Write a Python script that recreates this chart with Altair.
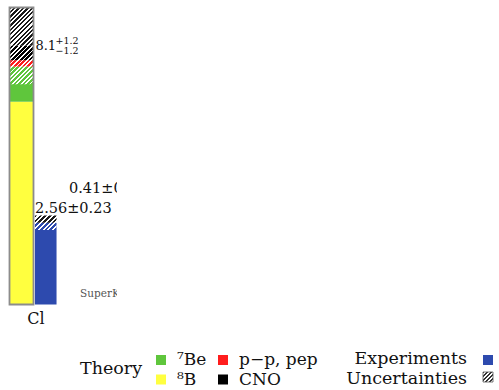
import altair as alt
import numpy as np
import pandas as pd

# Chlorine detector: standard solar model prediction split by neutrino source (SNU)
category = "Cl"
sources = ["⁸B", "⁷Be", "p−p, pep", "CNO"]
theory_snu = [6.35, 1.10, 0.20, 0.45]
source_colors = ["#ffff3f", "#5fc63c", "#ff1d1d", "#000000"]
theory_total = 8.1
theory_err = 1.2

# Measured rate
experiment_snu = 2.56
experiment_err = 0.23
experiment_color = "#2d4aae"

# Neighbouring (water Cherenkov) column, only its labels reach into view
neighbour_value = "0.41±0.01"
neighbour_name = "SuperK"

# Legend entries in column-major order
legend_labels = ["⁷Be", "⁸B", "p−p, pep", "CNO"]
legend_colors = ["#5fc63c", "#ffff3f", "#ff1d1d", "#000000"]

FONT = "DejaVu Serif"

# ---- geometry -------------------------------------------------------------
W, H = 117, 390            # visible plot strip
PAD_RIGHT = 499 - W        # legend lives in the right padding
PX_PER_SNU = 31.935
BASE_Y = 304.5
PX_PER_X = 24.0
X0 = 9.5

xs = alt.Scale(domain=[-X0 / PX_PER_X, (W - X0) / PX_PER_X], nice=False, zero=False)
ys = alt.Scale(domain=[-(H - BASE_Y) / PX_PER_SNU, BASE_Y / PX_PER_SNU], nice=False, zero=False)

THEORY_SLOT = (0.0, 1.0)
EXP_SLOT = (1.06, 1.96)


def hatch(c_on, c_off, w_px, h_px, period=4.5, duty=0.5):
    """Diagonal '/' stripes as a sharp-stop linear gradient in bbox units."""
    n = max(1, int(round((w_px + h_px) / period)))
    stops = []
    for i in range(n):
        a, b, c = i / n, (i + duty) / n, (i + 1) / n
        stops += [
            {"offset": a, "color": c_on},
            {"offset": b, "color": c_on},
            {"offset": b, "color": c_off},
            {"offset": c, "color": c_off},
        ]
    k = (w_px + h_px) / (w_px ** 2 + h_px ** 2)
    return {"gradient": "linear", "x1": 0, "y1": 0,
            "x2": k * w_px, "y2": k * h_px, "stops": stops}


def box(slot, lo, hi):
    return pd.DataFrame({"x0": [slot[0]], "x1": [slot[1]], "lo": [lo], "hi": [hi]})


def rect_enc(ch):
    return ch.encode(
        x=alt.X("x0:Q", scale=xs, axis=None), x2="x1:Q",
        y=alt.Y("lo:Q", scale=ys, axis=None), y2="hi:Q",
    )


# ---- theory stack ---------------------------------------------------------
lo = np.concatenate([[0.0], np.cumsum(theory_snu)[:-1]])
theory_df = pd.DataFrame({
    "source": sources, "lo": lo, "hi": lo + np.array(theory_snu),
    "color": source_colors, "x0": THEORY_SLOT[0], "x1": THEORY_SLOT[1],
})
theory_bars = alt.Chart(theory_df).mark_rect().encode(
    x=alt.X("x0:Q", scale=xs, axis=None), x2="x1:Q",
    y=alt.Y("lo:Q", scale=ys, axis=None), y2="hi:Q",
    color=alt.Color("color:N", scale=None),
)

tw = (THEORY_SLOT[1] - THEORY_SLOT[0]) * PX_PER_X
th = theory_err * PX_PER_SNU
theory_hatch_in = rect_enc(alt.Chart(box(THEORY_SLOT, theory_total - theory_err, theory_total)).mark_rect(
    fill=hatch("#ffffff", "rgba(255,255,255,0)", tw, th, duty=0.4)))
theory_hatch_out = rect_enc(alt.Chart(box(THEORY_SLOT, theory_total, theory_total + theory_err)).mark_rect(
    fill=hatch("#1a1a1a", "#ffffff", tw, th, duty=0.5)))
theory_outline = rect_enc(alt.Chart(box(THEORY_SLOT, 0, theory_total + theory_err)).mark_rect(
    filled=False, stroke="#8c8c8c", strokeWidth=1.8))

# ---- experiment -----------------------------------------------------------
exp_bar = rect_enc(alt.Chart(box(EXP_SLOT, 0, experiment_snu)).mark_rect(color=experiment_color))
ew = (EXP_SLOT[1] - EXP_SLOT[0]) * PX_PER_X
eh = experiment_err * PX_PER_SNU
exp_hatch_in = rect_enc(alt.Chart(box(EXP_SLOT, experiment_snu - experiment_err, experiment_snu)).mark_rect(
    fill=hatch("#ffffff", "rgba(255,255,255,0)", ew, eh, duty=0.4)))
exp_hatch_out = rect_enc(alt.Chart(box(EXP_SLOT, experiment_snu, experiment_snu + experiment_err)).mark_rect(
    fill=hatch("#1a1a1a", "#ffffff", ew, eh, duty=0.5)))

# ---- value labels ---------------------------------------------------------
lab = pd.DataFrame({
    "x": [EXP_SLOT[0] + 0.02], "ytot": [theory_total],
    "yexp": [experiment_snu + experiment_err],
    "xc": [(THEORY_SLOT[0] + EXP_SLOT[1]) / 2],
    "main": [f"{theory_total:.1f}"],
    "sup": [f"+{theory_err:.1f}"], "sub": [f"−{theory_err:.1f}"],
    "exp": [f"{experiment_snu:.2f}±{experiment_err:.2f}"],
    "cat": [category], "zero": [0.0],
})
lbase = alt.Chart(lab)
txt = dict(font=FONT, color="#111111")
tot_main = lbase.mark_text(align="left", baseline="middle", fontSize=13, **txt).encode(
    x=alt.X("x:Q", scale=xs), y=alt.Y("ytot:Q", scale=ys), text="main:N")
tot_sup = lbase.mark_text(align="left", baseline="middle", fontSize=9.5, dx=20, dy=-5, **txt).encode(
    x=alt.X("x:Q", scale=xs), y=alt.Y("ytot:Q", scale=ys), text="sup:N")
tot_sub = lbase.mark_text(align="left", baseline="middle", fontSize=9.5, dx=20, dy=5, **txt).encode(
    x=alt.X("x:Q", scale=xs), y=alt.Y("ytot:Q", scale=ys), text="sub:N")
exp_lab = lbase.mark_text(align="left", baseline="alphabetic", fontSize=14.5, dx=-0.5, dy=-2.5, **txt).encode(
    x=alt.X("x:Q", scale=xs), y=alt.Y("yexp:Q", scale=ys), text="exp:N")
cat_lab = lbase.mark_text(align="center", baseline="alphabetic", fontSize=16, dx=3, dy=19, **txt).encode(
    x=alt.X("xc:Q", scale=xs), y=alt.Y("zero:Q", scale=ys), text="cat:N")

nb = alt.Chart(pd.DataFrame({"v": [neighbour_value], "n": [neighbour_name]}))
nb_val = nb.mark_text(align="left", baseline="alphabetic", fontSize=14.5, clip=True, **txt).encode(
    x=alt.value(69), y=alt.value(193), text="v:N")
nb_name = nb.mark_text(align="left", baseline="middle", fontSize=10.5, clip=True, font=FONT, color="#555555").encode(
    x=alt.value(80), y=alt.value(293.5), text="n:N")

# ---- legend (drawn in the right-hand padding) ----------------------------
leg = pd.DataFrame({"label": legend_labels, "color": legend_colors})
leg["col"] = [0, 0, 1, 1]
leg["row"] = [0, 1, 0, 1]
leg["sx"] = 156 + 62 * leg["col"]
leg["sx2"] = leg["sx"] + 10
leg["sy"] = 355 + 19.5 * leg["row"]
leg["sy2"] = leg["sy"] + 10
leg["tx"] = leg["sx"] + 21
leg["ty"] = leg["sy"] + 10

lg = alt.Chart(leg)
leg_sw = lg.mark_rect().encode(
    x=alt.X("sx:Q", scale=None), x2="sx2:Q",
    y=alt.Y("sy:Q", scale=None), y2="sy2:Q",
    color=alt.Color("color:N", scale=None))
leg_tx = lg.mark_text(align="left", baseline="alphabetic", fontSize=17, **txt).encode(
    x=alt.X("tx:Q", scale=None), y=alt.Y("ty:Q", scale=None), text="label:N")

one = alt.Chart(pd.DataFrame({"t": ["Theory"], "e": ["Experiments"], "u": ["Uncertainties"]}))
leg_theory = one.mark_text(align="left", baseline="alphabetic", fontSize=17.5, **txt).encode(
    x=alt.value(80), y=alt.value(373.5), text="t:N")
leg_exp = one.mark_text(align="right", baseline="alphabetic", fontSize=17.5, **txt).encode(
    x=alt.value(467), y=alt.value(364), text="e:N")
leg_unc = one.mark_text(align="right", baseline="alphabetic", fontSize=17.5, **txt).encode(
    x=alt.value(467), y=alt.value(384), text="u:N")
leg_blue = one.mark_rect(color=experiment_color).encode(
    x=alt.value(483), x2=alt.value(493), y=alt.value(355), y2=alt.value(365))
leg_hatch = one.mark_rect(fill=hatch("#333333", "#ffffff", 10, 10, period=4.0), stroke="#555555",
                          strokeWidth=0.8).encode(
    x=alt.value(483), x2=alt.value(493), y=alt.value(372), y2=alt.value(382))

chart = alt.layer(
    theory_bars, theory_hatch_in, theory_hatch_out, theory_outline,
    exp_bar, exp_hatch_in, exp_hatch_out,
    tot_main, tot_sup, tot_sub, exp_lab, cat_lab, nb_val, nb_name,
    leg_sw, leg_tx, leg_theory, leg_exp, leg_unc, leg_blue, leg_hatch,
).properties(
    width=W, height=H, autosize="none",
    padding={"left": 0, "top": 0, "right": PAD_RIGHT, "bottom": 0},
).configure_view(stroke=None)

chart.save("out.html", embed_options={"renderer": "svg", "actions": False})
